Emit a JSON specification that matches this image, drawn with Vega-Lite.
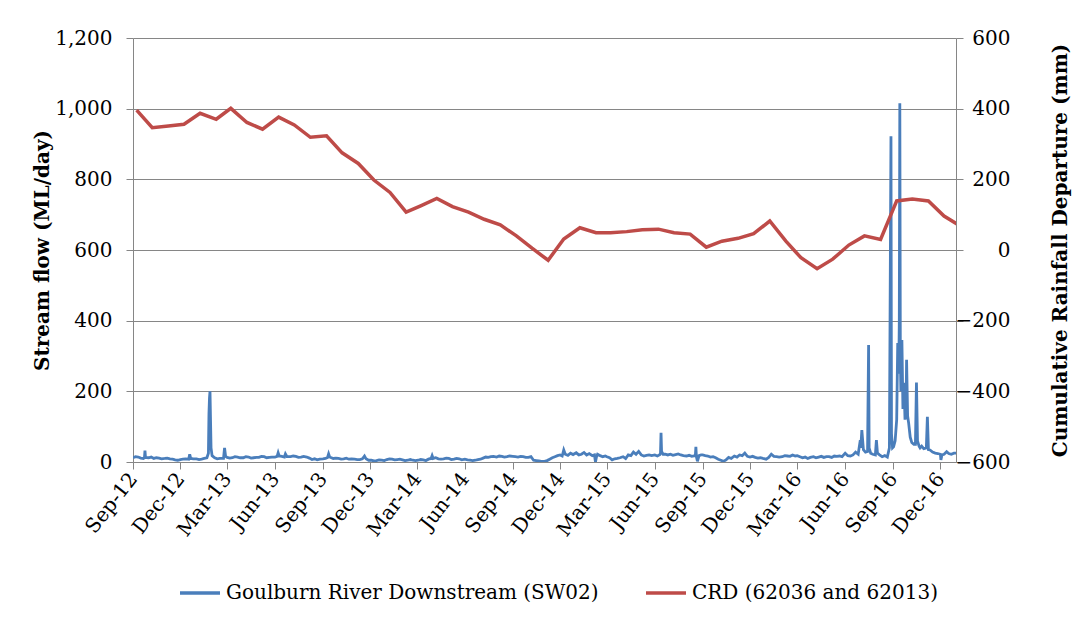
{
  "$schema": "https://vega.github.io/schema/vega-lite/v6.json",
  "width": 823,
  "height": 424,
  "autosize": "none",
  "padding": {"left": 133, "top": 38, "right": 132, "bottom": 157},
  "background": "white",
  "config": {
    "font": "DejaVu Serif",
    "view": {"stroke": null},
    "axis": {
      "labelFont": "DejaVu Serif",
      "labelFontSize": 20,
      "labelColor": "#000000",
      "titleFont": "DejaVu Serif",
      "titleFontSize": 20,
      "titleFontWeight": "bold",
      "titleColor": "#000000",
      "domainColor": "#868686",
      "tickColor": "#868686",
      "gridColor": "#868686",
      "domainWidth": 1,
      "tickWidth": 1,
      "gridWidth": 1,
      "tickSize": 7,
      "labelOverlap": false
    }
  },
  "layer": [
    {
      "data": {
        "format": {"parse": {"d": "date:'%Y-%m-%d'"}},
        "values": [
          {"d":"2012-09-01","v":12},{"d":"2012-09-06","v":15},{"d":"2012-09-11","v":14},{"d":"2012-09-16","v":11},{"d":"2012-09-21","v":10},{"d":"2012-09-23","v":12},{"d":"2012-09-24","v":32},{"d":"2012-09-25","v":13},
          {"d":"2012-10-01","v":12},{"d":"2012-10-06","v":14},{"d":"2012-10-11","v":10},{"d":"2012-10-16","v":12},{"d":"2012-10-21","v":11},{"d":"2012-10-26","v":9},
          {"d":"2012-11-01","v":10},{"d":"2012-11-06","v":11},{"d":"2012-11-11","v":9},{"d":"2012-11-16","v":8},{"d":"2012-11-21","v":6},{"d":"2012-11-26","v":5},
          {"d":"2012-12-01","v":7},{"d":"2012-12-06","v":8},{"d":"2012-12-11","v":9},{"d":"2012-12-17","v":8},{"d":"2012-12-19","v":22},{"d":"2012-12-21","v":10},{"d":"2012-12-26","v":9},
          {"d":"2013-01-01","v":9},{"d":"2013-01-06","v":7},{"d":"2013-01-11","v":8},{"d":"2013-01-16","v":10},{"d":"2013-01-21","v":12},{"d":"2013-01-24","v":25},{"d":"2013-01-25","v":135},{"d":"2013-01-26","v":180},{"d":"2013-01-27","v":200},{"d":"2013-01-28","v":120},{"d":"2013-01-29","v":40},{"d":"2013-01-31","v":18},
          {"d":"2013-02-05","v":12},{"d":"2013-02-10","v":9},{"d":"2013-02-15","v":10},{"d":"2013-02-22","v":10},{"d":"2013-02-24","v":40},{"d":"2013-02-26","v":16},
          {"d":"2013-03-01","v":13},{"d":"2013-03-06","v":11},{"d":"2013-03-11","v":12},{"d":"2013-03-16","v":15},{"d":"2013-03-21","v":14},{"d":"2013-03-26","v":12},
          {"d":"2013-04-01","v":12},{"d":"2013-04-06","v":15},{"d":"2013-04-11","v":14},{"d":"2013-04-16","v":11},{"d":"2013-04-21","v":12},{"d":"2013-04-26","v":13},
          {"d":"2013-05-01","v":13},{"d":"2013-05-06","v":16},{"d":"2013-05-11","v":15},{"d":"2013-05-16","v":12},{"d":"2013-05-21","v":13},{"d":"2013-05-26","v":14},
          {"d":"2013-06-01","v":14},{"d":"2013-06-05","v":16},{"d":"2013-06-07","v":26},{"d":"2013-06-09","v":17},{"d":"2013-06-14","v":16},{"d":"2013-06-19","v":14},{"d":"2013-06-21","v":23},{"d":"2013-06-24","v":15},
          {"d":"2013-07-01","v":15},{"d":"2013-07-06","v":17},{"d":"2013-07-11","v":16},{"d":"2013-07-16","v":13},{"d":"2013-07-21","v":14},{"d":"2013-07-26","v":16},
          {"d":"2013-08-01","v":14},{"d":"2013-08-06","v":11},{"d":"2013-08-11","v":7},{"d":"2013-08-16","v":9},{"d":"2013-08-21","v":6},{"d":"2013-08-26","v":8},
          {"d":"2013-09-01","v":9},{"d":"2013-09-06","v":10},{"d":"2013-09-10","v":13},{"d":"2013-09-12","v":23},{"d":"2013-09-14","v":14},{"d":"2013-09-21","v":10},{"d":"2013-09-26","v":11},
          {"d":"2013-10-01","v":10},{"d":"2013-10-06","v":8},{"d":"2013-10-11","v":9},{"d":"2013-10-16","v":11},{"d":"2013-10-21","v":8},{"d":"2013-10-26","v":9},
          {"d":"2013-11-01","v":8},{"d":"2013-11-06","v":7},{"d":"2013-11-11","v":7},{"d":"2013-11-16","v":9},{"d":"2013-11-20","v":17},{"d":"2013-11-23","v":9},{"d":"2013-11-28","v":5},
          {"d":"2013-12-03","v":5},{"d":"2013-12-08","v":3},{"d":"2013-12-13","v":4},{"d":"2013-12-18","v":6},{"d":"2013-12-23","v":5},{"d":"2013-12-28","v":4},
          {"d":"2014-01-02","v":7},{"d":"2014-01-07","v":9},{"d":"2014-01-12","v":8},{"d":"2014-01-17","v":6},{"d":"2014-01-22","v":7},{"d":"2014-01-27","v":8},
          {"d":"2014-02-01","v":6},{"d":"2014-02-06","v":4},{"d":"2014-02-11","v":5},{"d":"2014-02-16","v":7},{"d":"2014-02-21","v":5},{"d":"2014-02-26","v":4},
          {"d":"2014-03-03","v":5},{"d":"2014-03-08","v":7},{"d":"2014-03-13","v":6},{"d":"2014-03-18","v":4},{"d":"2014-03-23","v":8},{"d":"2014-03-28","v":10},{"d":"2014-03-30","v":18},
          {"d":"2014-04-01","v":10},{"d":"2014-04-06","v":12},{"d":"2014-04-11","v":9},{"d":"2014-04-16","v":8},{"d":"2014-04-21","v":9},{"d":"2014-04-26","v":11},
          {"d":"2014-05-01","v":10},{"d":"2014-05-06","v":7},{"d":"2014-05-11","v":8},{"d":"2014-05-16","v":10},{"d":"2014-05-21","v":9},{"d":"2014-05-26","v":6},
          {"d":"2014-06-01","v":8},{"d":"2014-06-06","v":6},{"d":"2014-06-11","v":5},{"d":"2014-06-16","v":4},{"d":"2014-06-21","v":5},{"d":"2014-06-26","v":7},
          {"d":"2014-07-01","v":8},{"d":"2014-07-06","v":11},{"d":"2014-07-11","v":14},{"d":"2014-07-16","v":13},{"d":"2014-07-21","v":15},{"d":"2014-07-26","v":16},
          {"d":"2014-08-01","v":14},{"d":"2014-08-06","v":17},{"d":"2014-08-11","v":16},{"d":"2014-08-16","v":14},{"d":"2014-08-21","v":15},{"d":"2014-08-26","v":17},
          {"d":"2014-09-01","v":16},{"d":"2014-09-06","v":15},{"d":"2014-09-11","v":14},{"d":"2014-09-16","v":16},{"d":"2014-09-21","v":15},{"d":"2014-09-26","v":13},
          {"d":"2014-10-01","v":13},{"d":"2014-10-06","v":15},{"d":"2014-10-11","v":5},{"d":"2014-10-16","v":4},{"d":"2014-10-21","v":3},{"d":"2014-10-26","v":2},
          {"d":"2014-11-01","v":2},{"d":"2014-11-06","v":4},{"d":"2014-11-11","v":8},{"d":"2014-11-16","v":12},{"d":"2014-11-21","v":15},{"d":"2014-11-26","v":18},
          {"d":"2014-12-01","v":20},{"d":"2014-12-05","v":17},{"d":"2014-12-08","v":34},{"d":"2014-12-11","v":22},{"d":"2014-12-16","v":19},{"d":"2014-12-21","v":25},{"d":"2014-12-26","v":21},
          {"d":"2015-01-01","v":26},{"d":"2015-01-06","v":20},{"d":"2015-01-11","v":22},{"d":"2015-01-16","v":27},{"d":"2015-01-21","v":20},{"d":"2015-01-26","v":24},
          {"d":"2015-02-01","v":18},{"d":"2015-02-05","v":20},{"d":"2015-02-07","v":0},{"d":"2015-02-09","v":15},{"d":"2015-02-11","v":22},{"d":"2015-02-16","v":18},{"d":"2015-02-21","v":15},{"d":"2015-02-26","v":17},
          {"d":"2015-03-01","v":15},{"d":"2015-03-06","v":12},{"d":"2015-03-11","v":6},{"d":"2015-03-16","v":9},{"d":"2015-03-21","v":10},{"d":"2015-03-26","v":12},
          {"d":"2015-04-01","v":15},{"d":"2015-04-06","v":10},{"d":"2015-04-11","v":20},{"d":"2015-04-16","v":18},{"d":"2015-04-21","v":28},{"d":"2015-04-26","v":22},
          {"d":"2015-05-01","v":30},{"d":"2015-05-06","v":20},{"d":"2015-05-11","v":17},{"d":"2015-05-16","v":19},{"d":"2015-05-21","v":20},{"d":"2015-05-26","v":18},
          {"d":"2015-06-01","v":20},{"d":"2015-06-06","v":17},{"d":"2015-06-11","v":21},{"d":"2015-06-12","v":25},{"d":"2015-06-13","v":83},{"d":"2015-06-14","v":30},{"d":"2015-06-17","v":22},{"d":"2015-06-21","v":22},{"d":"2015-06-26","v":20},
          {"d":"2015-07-01","v":22},{"d":"2015-07-06","v":19},{"d":"2015-07-11","v":21},{"d":"2015-07-16","v":23},{"d":"2015-07-21","v":20},{"d":"2015-07-26","v":18},
          {"d":"2015-08-01","v":17},{"d":"2015-08-06","v":19},{"d":"2015-08-11","v":16},{"d":"2015-08-18","v":18},{"d":"2015-08-19","v":43},{"d":"2015-08-20","v":15},{"d":"2015-08-22","v":2},{"d":"2015-08-25","v":18},{"d":"2015-08-29","v":20},
          {"d":"2015-09-01","v":20},{"d":"2015-09-06","v":18},{"d":"2015-09-11","v":17},{"d":"2015-09-16","v":14},{"d":"2015-09-21","v":15},{"d":"2015-09-26","v":12},
          {"d":"2015-10-01","v":8},{"d":"2015-10-06","v":5},{"d":"2015-10-11","v":2},{"d":"2015-10-16","v":6},{"d":"2015-10-21","v":13},{"d":"2015-10-26","v":10},
          {"d":"2015-11-01","v":17},{"d":"2015-11-06","v":14},{"d":"2015-11-11","v":20},{"d":"2015-11-16","v":18},{"d":"2015-11-21","v":25},{"d":"2015-11-26","v":16},
          {"d":"2015-12-01","v":14},{"d":"2015-12-06","v":16},{"d":"2015-12-11","v":13},{"d":"2015-12-16","v":11},{"d":"2015-12-21","v":12},{"d":"2015-12-26","v":10},
          {"d":"2016-01-01","v":8},{"d":"2016-01-06","v":13},{"d":"2016-01-11","v":22},{"d":"2016-01-16","v":16},{"d":"2016-01-21","v":15},{"d":"2016-01-26","v":14},
          {"d":"2016-02-01","v":15},{"d":"2016-02-06","v":18},{"d":"2016-02-11","v":17},{"d":"2016-02-16","v":16},{"d":"2016-02-21","v":20},{"d":"2016-02-26","v":17},
          {"d":"2016-03-01","v":18},{"d":"2016-03-06","v":15},{"d":"2016-03-11","v":12},{"d":"2016-03-16","v":14},{"d":"2016-03-21","v":10},{"d":"2016-03-26","v":13},
          {"d":"2016-04-01","v":15},{"d":"2016-04-06","v":12},{"d":"2016-04-11","v":14},{"d":"2016-04-16","v":16},{"d":"2016-04-21","v":13},{"d":"2016-04-26","v":15},
          {"d":"2016-05-01","v":15},{"d":"2016-05-06","v":13},{"d":"2016-05-11","v":17},{"d":"2016-05-16","v":16},{"d":"2016-05-21","v":17},{"d":"2016-05-26","v":15},
          {"d":"2016-06-01","v":25},{"d":"2016-06-06","v":18},{"d":"2016-06-11","v":17},{"d":"2016-06-16","v":20},{"d":"2016-06-21","v":28},{"d":"2016-06-26","v":22},{"d":"2016-06-30","v":62},
          {"d":"2016-07-01","v":40},{"d":"2016-07-03","v":90},{"d":"2016-07-06","v":35},{"d":"2016-07-10","v":28},{"d":"2016-07-14","v":30},{"d":"2016-07-16","v":331},{"d":"2016-07-17","v":40},{"d":"2016-07-20","v":25},{"d":"2016-07-24","v":22},{"d":"2016-07-29","v":20},{"d":"2016-07-31","v":62},
          {"d":"2016-08-02","v":25},{"d":"2016-08-06","v":20},{"d":"2016-08-11","v":15},{"d":"2016-08-16","v":18},{"d":"2016-08-21","v":14},{"d":"2016-08-25","v":40},{"d":"2016-08-28","v":922},{"d":"2016-08-29","v":80},{"d":"2016-08-31","v":40},
          {"d":"2016-09-02","v":43},{"d":"2016-09-05","v":60},{"d":"2016-09-08","v":120},{"d":"2016-09-10","v":337},{"d":"2016-09-12","v":250},{"d":"2016-09-13","v":400},{"d":"2016-09-14","v":1015},{"d":"2016-09-15","v":300},{"d":"2016-09-16","v":200},{"d":"2016-09-18","v":345},{"d":"2016-09-20","v":150},{"d":"2016-09-22","v":224},{"d":"2016-09-24","v":120},{"d":"2016-09-26","v":140},{"d":"2016-09-27","v":289},{"d":"2016-09-29","v":130},
          {"d":"2016-10-01","v":110},{"d":"2016-10-04","v":70},{"d":"2016-10-07","v":55},{"d":"2016-10-11","v":50},{"d":"2016-10-14","v":50},{"d":"2016-10-16","v":225},{"d":"2016-10-18","v":60},{"d":"2016-10-21","v":45},{"d":"2016-10-23","v":40},{"d":"2016-10-26","v":45},{"d":"2016-10-30","v":38},
          {"d":"2016-11-04","v":40},{"d":"2016-11-06","v":128},{"d":"2016-11-08","v":35},{"d":"2016-11-11","v":34},{"d":"2016-11-16","v":28},{"d":"2016-11-21","v":25},{"d":"2016-11-26","v":24},
          {"d":"2016-12-01","v":22},{"d":"2016-12-02","v":6},{"d":"2016-12-04","v":20},{"d":"2016-12-08","v":22},{"d":"2016-12-13","v":29},{"d":"2016-12-17","v":24},{"d":"2016-12-22","v":22},{"d":"2016-12-27","v":25},{"d":"2016-12-31","v":25}
        ]
      },
      "mark": {"type": "line", "strokeWidth": 2.8, "clip": true},
      "encoding": {
        "x": {
          "field": "d", "type": "temporal",
          "scale": {"domain": [{"year": 2012, "month": 9, "date": 1}, {"year": 2016, "month": 12, "date": 31}]},
          "axis": {
            "title": null, "grid": false, "format": "%b-%y", "formatType": "time",
            "labelAngle": -52, "labelAlign": "right", "labelBaseline": "middle", "labelPadding": 6,
            "values": [
              {"year": 2012, "month": 9, "date": 1}, {"year": 2012, "month": 12, "date": 1},
              {"year": 2013, "month": 3, "date": 1}, {"year": 2013, "month": 6, "date": 1}, {"year": 2013, "month": 9, "date": 1}, {"year": 2013, "month": 12, "date": 1},
              {"year": 2014, "month": 3, "date": 1}, {"year": 2014, "month": 6, "date": 1}, {"year": 2014, "month": 9, "date": 1}, {"year": 2014, "month": 12, "date": 1},
              {"year": 2015, "month": 3, "date": 1}, {"year": 2015, "month": 6, "date": 1}, {"year": 2015, "month": 9, "date": 1}, {"year": 2015, "month": 12, "date": 1},
              {"year": 2016, "month": 3, "date": 1}, {"year": 2016, "month": 6, "date": 1}, {"year": 2016, "month": 9, "date": 1}, {"year": 2016, "month": 12, "date": 1}
            ]
          }
        },
        "y": {
          "field": "v", "type": "quantitative",
          "scale": {"domain": [0, 1200], "nice": false},
          "axis": {
            "orient": "left", "grid": true, "values": [0, 200, 400, 600, 800, 1000, 1200],
            "format": ",.0f", "labelPadding": 14, "title": "Stream flow (ML/day)",
            "titleX": -91, "titleY": 212, "titleAngle": -90, "titleAlign": "center", "titleBaseline": "middle"
          }
        },
        "color": {
          "datum": "Goulburn River Downstream (SW02)",
          "scale": {"domain": ["Goulburn River Downstream (SW02)", "CRD (62036 and 62013)"], "range": ["#4a7ebb", "#be4b48"]},
          "legend": {
            "title": null, "orient": "none", "direction": "horizontal", "legendX": 45, "legendY": 533,
            "symbolType": "stroke", "symbolSize": 1600, "symbolStrokeWidth": 3.5,
            "labelFont": "DejaVu Serif", "labelFontSize": 20, "labelColor": "#000000", "labelLimit": 0,
            "labelOffset": 4, "columnPadding": 40, "padding": 0
          }
        }
      }
    },
    {
      "data": {
        "format": {"parse": {"d": "date:'%Y-%m-%d'"}},
        "values": [
          {"d":"2012-09-08","c":396},{"d":"2012-10-08","c":346},{"d":"2012-11-08","c":351},{"d":"2012-12-08","c":356},
          {"d":"2013-01-08","c":387},{"d":"2013-02-08","c":370},{"d":"2013-03-08","c":401},{"d":"2013-04-08","c":361},{"d":"2013-05-08","c":342},{"d":"2013-06-08","c":376},
          {"d":"2013-07-08","c":354},{"d":"2013-08-08","c":319},{"d":"2013-09-08","c":323},{"d":"2013-10-08","c":275},{"d":"2013-11-08","c":245},{"d":"2013-12-08","c":198},
          {"d":"2014-01-08","c":163},{"d":"2014-02-08","c":107},{"d":"2014-03-08","c":125},{"d":"2014-04-08","c":146},{"d":"2014-05-08","c":123},{"d":"2014-06-08","c":107},
          {"d":"2014-07-08","c":87},{"d":"2014-08-08","c":71},{"d":"2014-09-08","c":40},{"d":"2014-10-08","c":5},{"d":"2014-11-08","c":-29},{"d":"2014-12-08","c":31},
          {"d":"2015-01-08","c":63},{"d":"2015-02-08","c":49},{"d":"2015-03-08","c":49},{"d":"2015-04-08","c":52},{"d":"2015-05-08","c":57},{"d":"2015-06-08","c":59},
          {"d":"2015-07-08","c":49},{"d":"2015-08-08","c":45},{"d":"2015-09-08","c":8},{"d":"2015-10-08","c":25},{"d":"2015-11-08","c":33},{"d":"2015-12-08","c":46},
          {"d":"2016-01-08","c":82},{"d":"2016-02-08","c":25},{"d":"2016-03-08","c":-22},{"d":"2016-04-08","c":-53},{"d":"2016-05-08","c":-26},{"d":"2016-06-08","c":14},
          {"d":"2016-07-08","c":40},{"d":"2016-08-08","c":30},{"d":"2016-09-08","c":139},{"d":"2016-10-08","c":144},{"d":"2016-11-08","c":139},{"d":"2016-12-08","c":96},
          {"d":"2017-01-08","c":68}
        ]
      },
      "mark": {"type": "line", "strokeWidth": 3.5, "clip": true},
      "encoding": {
        "x": {
          "field": "d", "type": "temporal",
          "scale": {"domain": [{"year": 2012, "month": 9, "date": 1}, {"year": 2016, "month": 12, "date": 31}]}
        },
        "y": {
          "field": "c", "type": "quantitative",
          "scale": {"domain": [-600, 600], "nice": false},
          "axis": {
            "orient": "right", "grid": false, "values": [-600, -400, -200, 0, 200, 400, 600],
            "labelAlign": "right", "labelPadding": 47,
            "title": "Cumulative Rainfall Departure (mm)",
            "titleX": 104, "titleY": 212, "titleAngle": -90, "titleAlign": "center", "titleBaseline": "middle"
          }
        },
        "color": {"datum": "CRD (62036 and 62013)"}
      }
    }
  ],
  "resolve": {"scale": {"y": "independent"}}
}
